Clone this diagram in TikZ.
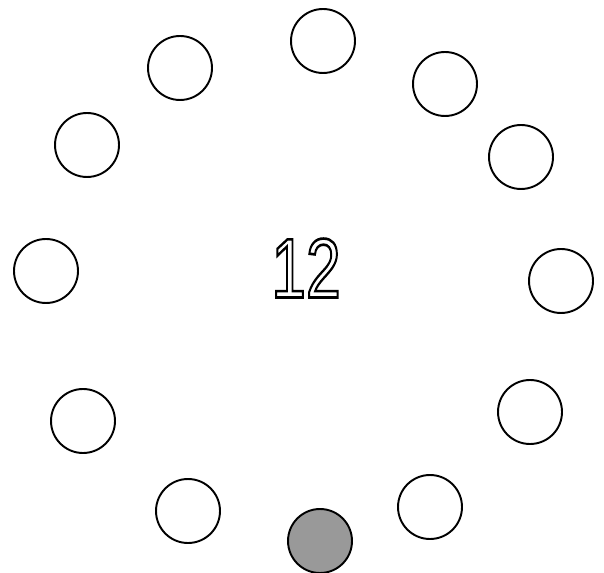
\documentclass[tikz,border=0pt]{standalone}
\usepackage{fontspec}
\setmainfont{Liberation Sans}
\usepackage{tikz}
\definecolor{dotgray}{HTML}{999999}
% stroke-only text (render mode 1)
\newcommand{\hollow}[1]{\special{pdf:literal direct 1 Tr 1.5 w}#1\special{pdf:literal direct 0 Tr}}

\begin{document}
\begin{tikzpicture}[x=0.02cm, y=-0.02cm,
    dot/.style={circle, draw, line width=1.1pt, minimum size=1.28cm, inner sep=0pt, fill=white},
    countnum/.style={xscale=0.74, font=\fontsize{48}{58}\selectfont}]
    \useasboundingbox (0,0) rectangle (604,573);
    \coordinate (p1) at (323,41);
    \coordinate (p2) at (445,84);
    \coordinate (p3) at (521,157);
    \coordinate (p4) at (561,281);
    \coordinate (p5) at (530,412);
    \coordinate (p6) at (430,507);
    \coordinate (p8) at (188,511);
    \coordinate (p9) at (83,421);
    \coordinate (p10) at (46,271);
    \coordinate (p11) at (87,145);
    \coordinate (p12) at (180,68);
    \foreach \p in {1,2,3,4,5,6,8,9,10,11,12} {\node[dot] (c\p) at (p\p) {};}
    \node[dot, fill=dotgray] (c7) at (320,541) {};
    \node[countnum] (count) at (306,268) {\hollow{12}};
\end{tikzpicture}
\end{document}
